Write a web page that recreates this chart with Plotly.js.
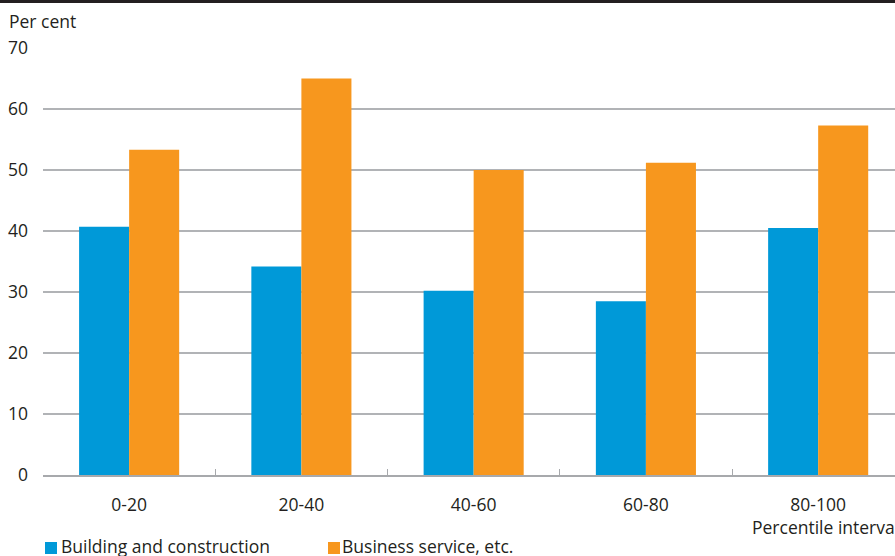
<!DOCTYPE html>
<html>
<head>
<meta charset="utf-8">
<script src="https://cdn.plot.ly/plotly-3.0.1.min.js"></script>
<style>html,body{margin:0;padding:0;background:#fff;}#chart{width:895px;height:556px;}</style>
</head>
<body>
<div id="chart"></div>
<script>
const categories = ['0-20', '20-40', '40-60', '60-80', '80-100'];
const seriesNames = ['Building and construction', 'Business service, etc.'];
const building = [40.7, 34.2, 30.2, 28.5, 40.5];
const business = [53.3, 65.0, 50.0, 51.2, 57.3];
const yTicks = [0, 10, 20, 30, 40, 50, 60, 70];

const W = 895, H = 556;
const L = 43, R = 0, T = 48, B = 81;
const pw = W - L - R, ph = H - T - B;
const px = x => (x - L) / pw;
const py = y => (H - B - y) / ph;

const colors = ['#0099d8', '#f7971e'];
const font = {family: '"Open Sans", "Noto Sans", sans-serif', size: 17.5, color: '#231f20'};

const traces = [
  {type: 'bar', x: categories, y: building, name: seriesNames[0], marker: {color: colors[0]}, hoverinfo: 'none'},
  {type: 'bar', x: categories, y: business, name: seriesNames[1], marker: {color: colors[1]}, hoverinfo: 'none'}
];

const layout = {
  width: W, height: H,
  margin: {l: L, r: R, t: T, b: B, pad: 0},
  paper_bgcolor: '#ffffff', plot_bgcolor: '#ffffff',
  font: font,
  showlegend: false,
  barmode: 'group',
  bargap: 0.419, bargroupgap: 0,
  xaxis: {
    type: 'category', range: [-0.5, 4.446], fixedrange: true,
    showline: true, linecolor: '#a7a9ac', linewidth: 1.5,
    ticks: 'inside', tickson: 'boundaries', ticklen: 6, tickcolor: '#a7a9ac', tickwidth: 1,
    showgrid: false, ticklabelstandoff: 13,
    tickfont: font
  },
  yaxis: {
    range: [0, 70], tickvals: yTicks, ticktext: yTicks.map(String),
    showgrid: true, gridcolor: '#b1b3b6', gridwidth: 1.3, zeroline: false,
    showline: false, ticks: '', ticklabelstandoff: 14, fixedrange: true,
    tickfont: font
  },
  shapes: [
    {type: 'line', xref: 'paper', yref: 'paper', x0: px(0), x1: px(W), y0: py(1.5), y1: py(1.5), line: {color: '#231f20', width: 3}},
    {type: 'rect', xref: 'paper', yref: 'paper', x0: px(45), x1: px(57), y0: py(554), y1: py(542), fillcolor: colors[0], line: {width: 0}},
    {type: 'rect', xref: 'paper', yref: 'paper', x0: px(328), x1: px(340), y0: py(554), y1: py(542), fillcolor: colors[1], line: {width: 0}}
  ],
  annotations: [
    {xref: 'paper', yref: 'paper', x: px(7), y: py(21), xanchor: 'left', yanchor: 'middle', text: 'Per cent', showarrow: false, font: font},
    {xref: 'paper', yref: 'paper', x: px(750), y: py(527), xanchor: 'left', yanchor: 'middle', text: 'Percentile interval', showarrow: false, font: font},
    {xref: 'paper', yref: 'paper', x: px(59), y: py(546), xanchor: 'left', yanchor: 'middle', text: seriesNames[0], showarrow: false, font: font},
    {xref: 'paper', yref: 'paper', x: px(340), y: py(546), xanchor: 'left', yanchor: 'middle', text: seriesNames[1], showarrow: false, font: font}
  ]
};

Plotly.newPlot('chart', traces, layout, {displayModeBar: false, staticPlot: true});
</script>
</body>
</html>
